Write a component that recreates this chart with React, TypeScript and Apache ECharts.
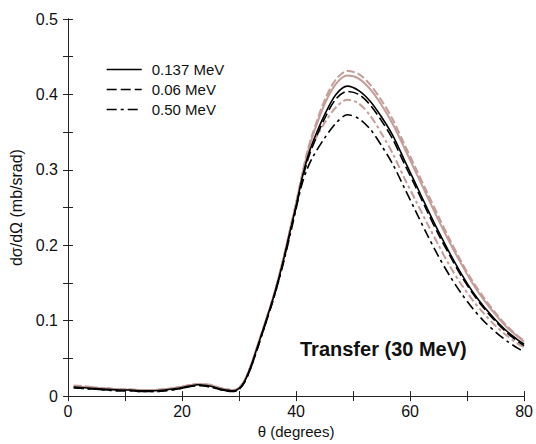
import React, { useEffect, useRef } from "react";
import * as echarts from "echarts";

const angles = [1,3,5,7,9,11,13,15,17,19,21,23,25,27,29,30,31,32,33,34,35,36,37,38,39,40,41,42,43,45,47,49,51,53,55,57,59,61,63,65,67,69,71,73,75,77,79,80];

const solid137 = [0.012,0.011,0.010,0.009,0.008,0.008,0.007,0.007,0.008,0.010,0.013,0.015,0.013,0.009,0.007,
  0.010,0.020,0.038,0.060,0.083,0.106,0.130,0.157,0.187,0.220,0.252,0.287,0.316,0.338,
  0.373,0.400,0.411,0.405,0.391,0.370,0.345,0.313,0.281,0.249,0.218,0.189,0.162,0.138,0.118,0.101,0.086,0.074,0.069];
const dashed006 = [0.011,0.010,0.009,0.008,0.007,0.007,0.006,0.006,0.007,0.009,0.012,0.014,0.012,0.008,0.006,
  0.009,0.019,0.036,0.058,0.081,0.104,0.128,0.155,0.185,0.218,0.250,0.284,0.312,0.333,
  0.368,0.394,0.404,0.400,0.386,0.365,0.340,0.308,0.277,0.245,0.214,0.186,0.159,0.136,0.116,0.099,0.084,0.072,0.067];
const dashdot050 = [0.011,0.010,0.009,0.008,0.007,0.007,0.006,0.006,0.007,0.009,0.012,0.014,0.012,0.008,0.006,
  0.009,0.019,0.036,0.058,0.081,0.104,0.128,0.154,0.183,0.215,0.248,0.280,0.302,0.318,
  0.342,0.362,0.373,0.368,0.354,0.332,0.307,0.276,0.245,0.214,0.185,0.159,0.136,0.116,0.099,0.085,0.073,0.063,0.059];
const pinkDashed = [0.014,0.013,0.011,0.010,0.009,0.009,0.008,0.008,0.009,0.011,0.014,0.016,0.015,0.010,0.008,
  0.011,0.021,0.039,0.061,0.084,0.107,0.131,0.159,0.190,0.223,0.256,0.292,0.325,0.350,
  0.392,0.420,0.431,0.427,0.413,0.392,0.366,0.334,0.302,0.270,0.238,0.207,0.178,0.152,0.130,0.110,0.093,0.079,0.074];
const pinkSolid = [0.013,0.012,0.011,0.010,0.009,0.008,0.008,0.008,0.009,0.011,0.014,0.016,0.014,0.010,0.008,
  0.011,0.021,0.039,0.061,0.084,0.107,0.131,0.159,0.189,0.222,0.255,0.290,0.322,0.347,
  0.387,0.414,0.425,0.421,0.407,0.386,0.360,0.329,0.297,0.265,0.233,0.203,0.175,0.149,0.127,0.108,0.091,0.078,0.072];
const pinkDashdot = [0.013,0.012,0.011,0.010,0.009,0.008,0.008,0.008,0.009,0.011,0.014,0.016,0.014,0.010,0.008,
  0.011,0.021,0.039,0.061,0.084,0.107,0.131,0.158,0.188,0.221,0.254,0.287,0.315,0.335,
  0.362,0.383,0.393,0.388,0.372,0.348,0.321,0.289,0.259,0.229,0.200,0.172,0.148,0.127,0.109,0.093,0.080,0.069,0.065];

const legendNames = ["0.137 MeV", "0.06 MeV", "0.50 MeV"];
const annotation = "Transfer (30 MeV)";
const xName = "θ (degrees)";
const yName = "dσ/dΩ (mb/srad)";

const FONT = "'Liberation Sans', Arial, sans-serif";
const PINK = "#c49c98";

const zip = (ys: number[]) => angles.map((a, i) => [a, ys[i]]);

export default function App() {
  const ref = useRef<HTMLDivElement>(null);
  useEffect(() => {
    const chart = echarts.init(ref.current!, null, { renderer: "svg" });
    const yFmt = (v: number) => {
      const t = v * 10;
      if (Math.abs(t - Math.round(t)) > 1e-6) return "";
      return v === 0 ? "0" : v.toFixed(1);
    };
    const xFmt = (v: number) => (v % 20 === 0 ? String(v) : "");
    const axisCommon = {
      axisLine: { show: true, lineStyle: { color: "#222", width: 1 } },
      axisTick: { show: true, inside: true, length: 5, lineStyle: { color: "#222" } },
      splitLine: { show: false },
    };
    const mk = (name: string, data: number[], color: string, type: any, width: number) => ({
      type: "line",
      name,
      data: zip(data),
      xAxisIndex: 0,
      yAxisIndex: 0,
      showSymbol: false,
      symbol: "none",
      smooth: 0.3,
      lineStyle: { color, type, width },
      itemStyle: { color },
      z: color === PINK ? 2 : 3,
    });
    chart.setOption({
      animation: false,
      backgroundColor: "#fff",
      textStyle: { fontFamily: FONT },
      grid: { left: 68, right: 9, top: 19, bottom: 44, containLabel: false },
      xAxis: [
        {
          type: "value", min: 0, max: 80, interval: 10, position: "bottom",
          ...axisCommon,
          axisLabel: { formatter: xFmt, color: "#111", fontSize: 16, margin: 7, fontFamily: FONT },
          name: xName, nameLocation: "middle", nameGap: 25,
          nameTextStyle: { color: "#111", fontSize: 15, fontFamily: FONT },
        },
        {
          type: "value", min: 0, max: 80, interval: 10, position: "top",
          ...axisCommon, axisLabel: { show: false },
        },
      ],
      yAxis: [
        {
          type: "value", min: 0, max: 0.5, interval: 0.05, position: "left",
          ...axisCommon,
          axisLabel: { formatter: yFmt, color: "#111", fontSize: 16, margin: 10, fontFamily: FONT },
          name: yName, nameLocation: "middle", nameGap: 40,
          nameTextStyle: { color: "#111", fontSize: 16, fontFamily: FONT },
        },
        {
          type: "value", min: 0, max: 0.5, interval: 0.05, position: "right",
          ...axisCommon, axisLabel: { show: false },
        },
      ],
      legend: {
        data: legendNames,
        orient: "vertical",
        left: 101,
        top: 57,
        itemWidth: 35,
        itemHeight: 14,
        itemGap: 5,
        itemStyle: { opacity: 0 },
        lineStyle: { width: 1.4 },
        textStyle: { fontSize: 15, color: "#111", fontFamily: FONT, padding: [0, 0, 0, 5] },
      },
      graphic: [
        {
          type: "text",
          left: 300,
          top: 339,
          style: { text: annotation, fill: "#111", font: `bold 20px ${FONT}` },
        },
      ],
      series: [
        mk("pink dashed", pinkDashed, PINK, [8, 3], 2),
        mk("pink solid", pinkSolid, PINK, "solid", 2),
        mk("pink dashdot", pinkDashdot, PINK, [8, 3, 3, 3], 2),
        mk(legendNames[1], dashed006, "#000", [10, 4], 1.6),
        mk(legendNames[2], dashdot050, "#000", [10, 4, 3, 4], 1.6),
        mk(legendNames[0], solid137, "#000", "solid", 1.6),
      ],
    });
    return () => chart.dispose();
  }, []);
  return <div ref={ref} style={{ position: "absolute", left: 0, top: 0, width: 536, height: 444 }} />;
}
